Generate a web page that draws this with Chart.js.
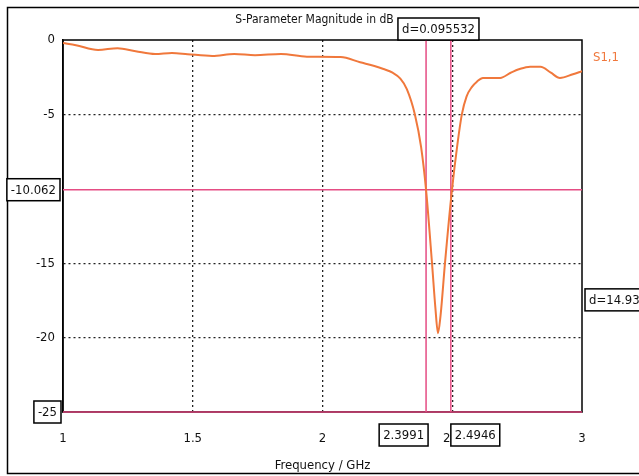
<!DOCTYPE html>
<html>
<head>
<meta charset="utf-8">
<script src="https://cdn.jsdelivr.net/npm/chart.js@4/dist/chart.umd.min.js"></script>
<style>
html, body { margin: 0; background: #fff; }
canvas { display: block; }
</style>
</head>
<body>
<canvas id="sparam" width="639" height="476"></canvas>
<script>
// S1,1 trace
const freqGHz = [1.00, 1.05, 1.135, 1.21, 1.28, 1.355, 1.42, 1.48, 1.575, 1.66, 1.74, 1.84, 1.94, 2.07, 2.145, 2.20, 2.235, 2.27, 2.30, 2.325, 2.356, 2.38, 2.399, 2.422, 2.435, 2.445, 2.455, 2.472, 2.499, 2.52, 2.537, 2.555, 2.576, 2.595, 2.618, 2.685, 2.725, 2.76, 2.80, 2.84, 2.88, 2.915, 2.965, 3.0];
const s11dB = [-0.2, -0.35, -0.67, -0.55, -0.75, -0.94, -0.87, -0.95, -1.07, -0.94, -1.02, -0.94, -1.12, -1.14, -1.5, -1.75, -1.95, -2.2, -2.6, -3.3, -5.0, -7.2, -10.06, -15.0, -18.0, -19.7, -18.5, -15.0, -10.06, -7.0, -5.0, -3.8, -3.15, -2.8, -2.55, -2.55, -2.2, -1.95, -1.8, -1.8, -2.2, -2.55, -2.3, -2.1];

// markers
const markerFreqs = [2.3991, 2.4946];
const markerLevels = [-10.062, -25];
const deltaLabels = ["d=0.095532", "d=14.938"];

const xTicks = [1, 1.5, 2, 2.5, 3];
const yTicks = [0, -5, -10, -15, -20, -25];

const FONT = '"DejaVu Sans Condensed", "Liberation Sans Narrow", sans-serif';
const TRACE = "#f0783c";
const MARK = "#e54d84";

Chart.defaults.font.family = FONT;
Chart.defaults.font.size = 13;
Chart.defaults.color = "#111";

const pts = (xs, ys) => xs.map((x, i) => ({ x: x, y: ys[i] }));

function box(ctx, text, x, y, anchor) {
    ctx.font = "13px " + FONT;
    const w = ctx.measureText(text).width + 8;
    const h = 22;
    let bx = x;
    if (anchor === "right") bx = x - w;
    if (anchor === "center") bx = x - w / 2;
    ctx.fillStyle = "#fff";
    ctx.fillRect(bx, y, w, h);
    ctx.strokeStyle = "#000";
    ctx.lineWidth = 1.5;
    ctx.strokeRect(bx, y, w, h);
    ctx.fillStyle = "#111";
    ctx.textAlign = "center";
    ctx.textBaseline = "middle";
    ctx.fillText(text, bx + w / 2, y + h / 2 + 1);
}

const decor = {
    id: "decor",
    beforeDraw(chart) {
        const ctx = chart.ctx;
        ctx.save();
        ctx.fillStyle = "#fff";
        ctx.fillRect(0, 0, chart.width, chart.height);
        ctx.strokeStyle = "#000";
        ctx.lineWidth = 1.5;
        ctx.strokeRect(7.5, 7.5, 640, 466);
        ctx.restore();
    },
    beforeDatasetsDraw(chart) {
        const { ctx, chartArea: a } = chart;
        ctx.save();
        ctx.strokeStyle = "#000";
        ctx.lineWidth = 1.5;
        ctx.strokeRect(a.left, a.top, a.right - a.left, a.bottom - a.top);
        ctx.restore();
    },
    afterDraw(chart) {
        const { ctx, chartArea: a, scales } = chart;
        const x = scales.x, y = scales.y;
        ctx.save();
        // title
        ctx.font = "12px " + FONT;
        ctx.fillStyle = "#111";
        ctx.textAlign = "center";
        ctx.textBaseline = "middle";
        ctx.fillText("S-Parameter Magnitude in dB", (a.left + a.right) / 2 - 8, 20);
        // trace name
        ctx.font = "13px " + FONT;
        ctx.fillStyle = TRACE;
        ctx.textAlign = "left";
        ctx.fillText("S1,1", a.right + 11, 58);
        // marker value boxes
        box(ctx, String(markerLevels[0]), a.left - 3, y.getPixelForValue(markerLevels[0]) - 11, "right");
        box(ctx, String(markerLevels[1]), a.left - 2, y.getPixelForValue(markerLevels[1]) - 11, "right");
        box(ctx, String(markerFreqs[0]), x.getPixelForValue(markerFreqs[0]) + 2, a.bottom + 12, "right");
        box(ctx, String(markerFreqs[1]), x.getPixelForValue(markerFreqs[1]), a.bottom + 12, "left");
        const midX = x.getPixelForValue((markerFreqs[0] + markerFreqs[1]) / 2);
        box(ctx, deltaLabels[0], midX, a.top - 22, "center");
        const midY = y.getPixelForValue((markerLevels[0] + markerLevels[1]) / 2);
        box(ctx, deltaLabels[1], a.right + 3, midY - 12, "left");
        ctx.restore();
    }
};

const ctx = document.getElementById("sparam");

new Chart(ctx, {
    type: "line",
    data: {
        datasets: [
            {
                label: "S1,1",
                data: pts(freqGHz, s11dB),
                borderColor: TRACE,
                borderWidth: 2,
                pointRadius: 0,
                cubicInterpolationMode: "monotone",
                tension: 0.4,
            },
            {
                label: "m1",
                data: pts([markerFreqs[0], markerFreqs[0]], [0, -25]),
                borderColor: MARK,
                borderWidth: 1.5,
                pointRadius: 0,
                clip: false,
            },
            {
                label: "m2",
                data: pts([markerFreqs[1], markerFreqs[1]], [0, -25]),
                borderColor: MARK,
                borderWidth: 1.5,
                pointRadius: 0,
                clip: false,
            },
            {
                label: "m3",
                data: pts([1, 3], [markerLevels[0], markerLevels[0]]),
                borderColor: MARK,
                borderWidth: 1.5,
                pointRadius: 0,
                clip: false,
            },
            {
                label: "m4",
                data: pts([1, 3], [markerLevels[1], markerLevels[1]]),
                borderColor: MARK,
                borderWidth: 1.5,
                pointRadius: 0,
                clip: false,
            },
        ],
    },
    options: {
        responsive: false,
        animation: false,
        events: [],
        layout: {
            padding: { top: 40, right: 57, bottom: 0, left: 0 },
        },
        plugins: {
            legend: { display: false },
            tooltip: { enabled: false },
        },
        scales: {
            x: {
                type: "linear",
                min: 1,
                max: 3,
                afterBuildTicks: (s) => { s.ticks = xTicks.map((v) => ({ value: v })); },
                afterFit: (s) => { s.height = 64; },
                ticks: {
                    padding: 19,
                    maxRotation: 0,
                    callback: (v) => String(v),
                },
                grid: {
                    drawTicks: false,
                    lineWidth: 1.3,
                    color: (c) => (c.tick && (c.tick.value === 1 || c.tick.value === 3) ? "rgba(0,0,0,0)" : "#222"),
                },
                border: {
                    color: "#000",
                    width: 1.5,
                    dash: [2, 3],
                },
                title: {
                    display: true,
                    text: "Frequency / GHz",
                    font: { size: 13 },
                    padding: { top: 0, bottom: 3 },
                },
            },
            y: {
                min: -25,
                max: 0,
                afterBuildTicks: (s) => { s.ticks = yTicks.map((v) => ({ value: v })); },
                afterFit: (s) => { s.width = 63; },
                ticks: {
                    padding: 8,
                    callback: (v) => (v === -10 || v === -25 ? "" : String(v)),
                },
                grid: {
                    drawTicks: false,
                    lineWidth: 1.3,
                    color: (c) => (c.tick && [-5, -15, -20].includes(c.tick.value) ? "#222" : "rgba(0,0,0,0)"),
                },
                border: {
                    color: "#000",
                    width: 1.5,
                    dash: [2, 3],
                },
            },
        },
    },
    plugins: [decor],
});
</script>
</body>
</html>
